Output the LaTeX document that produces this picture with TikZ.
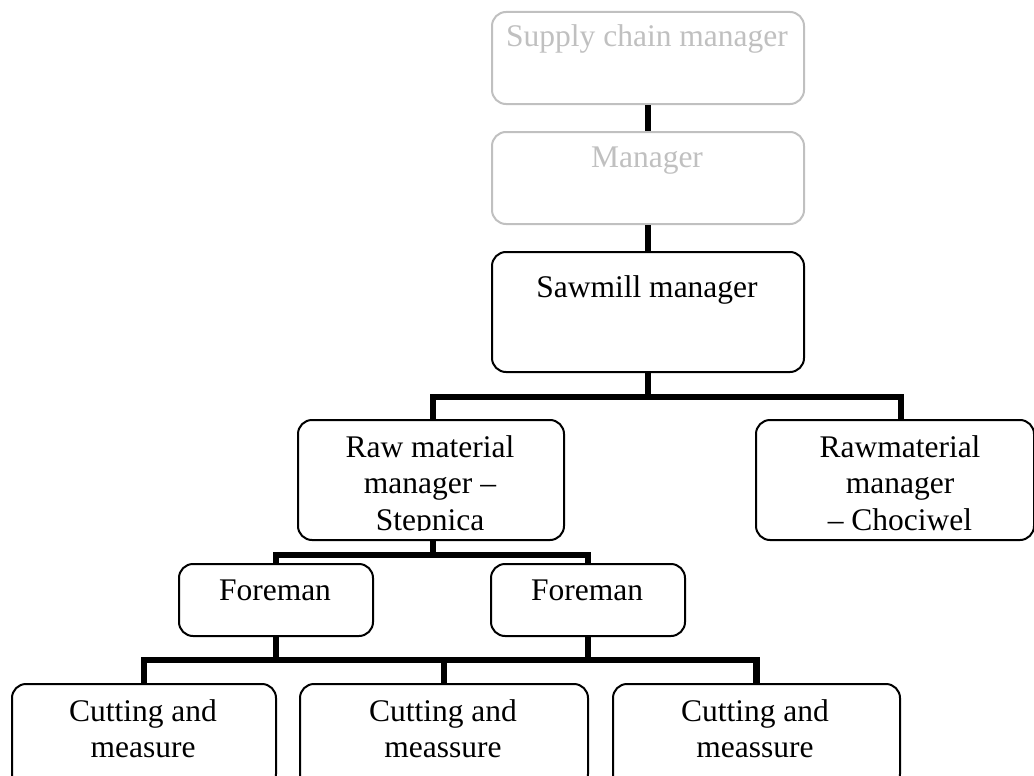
\documentclass[tikz,border=0pt]{standalone}
\usepackage{fontspec}
\setmainfont{Liberation Serif}
\definecolor{lightgrey}{RGB}{192,192,192}
\newcommand\boxlines[2]{\parbox[t]{#1}{\centering #2}}
\begin{document}
\begin{tikzpicture}[x=1pt,y=-1pt,
  orgbox/.style={draw=black, rounded corners=14pt, line width=2pt, inner sep=0pt,
                 anchor=north west, fill=white},
  greybox/.style={orgbox, draw=lightgrey},
  lbl/.style={anchor=base, inner sep=0pt, font=\fontsize{31.5}{36.5}\selectfont},
  greylbl/.style={lbl, text=lightgrey},
  conn/.style={line width=6.5pt, line join=miter, black}]
\clip (0,0) rectangle (1034,776);
\fill[white] (0,0) rectangle (1034,776);

% boxes of the organisation chart
\node[greybox, minimum width=312pt, minimum height=92pt]  (sup) at (491,11)  {};
\node[greybox, minimum width=312pt, minimum height=92pt]  (mgr) at (491,131) {};
\node[orgbox,  minimum width=312pt, minimum height=120pt] (saw) at (491,251) {};
\node[orgbox,  minimum width=266pt, minimum height=120pt] (stp) at (297,419) {};
\node[orgbox,  minimum width=278pt, minimum height=120pt] (cho) at (755,419) {};
\node[orgbox,  minimum width=194pt, minimum height=72pt]  (f1)  at (178,563) {};
\node[orgbox,  minimum width=194pt, minimum height=72pt]  (f2)  at (490,563) {};
\node[orgbox,  minimum width=264pt, minimum height=104pt] (c1)  at (11,683)  {};
\node[orgbox,  minimum width=288pt, minimum height=104pt] (c2)  at (299,683) {};
\node[orgbox,  minimum width=287pt, minimum height=104pt] (c3)  at (612,683) {};

% reporting lines
\draw[conn] (sup.south) -- (mgr.north);
\draw[conn] (mgr.south) -- (saw.north);
\draw[conn] (saw.south) -- ++(0,24) -| ([xshift=2pt]stp.north);
\draw[conn] (saw.south) -- ++(0,24) -| ([xshift=6pt]cho.north);
\draw[conn] ([xshift=2pt]stp.south) -- ++(0,14) -| (f1.north);
\draw[conn] ([xshift=2pt]stp.south) -- ++(0,14) -| (f2.north);
\draw[conn] (c1.north) -- ++(0,-23) -| (c3.north);
\draw[conn] (f1.south) -- ++(0,25);
\draw[conn] (f2.south) -- ++(0,25);
\draw[conn] (c2.north) -- ++(0,-24);

% labels
\node[greylbl] (tsup) at (647,47)  {Supply chain manager};
\node[greylbl] (tmgr) at (647,167) {Manager};
\node[lbl]     (tsaw) at (647,297) {Sawmill manager};
\begin{scope}
  \clip (297,419) rectangle (563,530);
  \node[lbl] (tstp) at (430,457) {\boxlines{260pt}{Raw material\\manager –\\Stepnica}};
\end{scope}
\node[lbl] (tcho) at (900,457) {\boxlines{270pt}{Rawmaterial\\manager\\– Chociwel}};
\node[lbl] (tf1) at (275,600) {Foreman};
\node[lbl] (tf2) at (587,600) {Foreman};
\node[lbl] (tc1) at (143,721) {\boxlines{260pt}{Cutting and\\measure}};
\node[lbl] (tc2) at (443,721) {\boxlines{280pt}{Cutting and\\meassure}};
\node[lbl] (tc3) at (755,721) {\boxlines{280pt}{Cutting and\\meassure}};
\end{tikzpicture}
\end{document}
